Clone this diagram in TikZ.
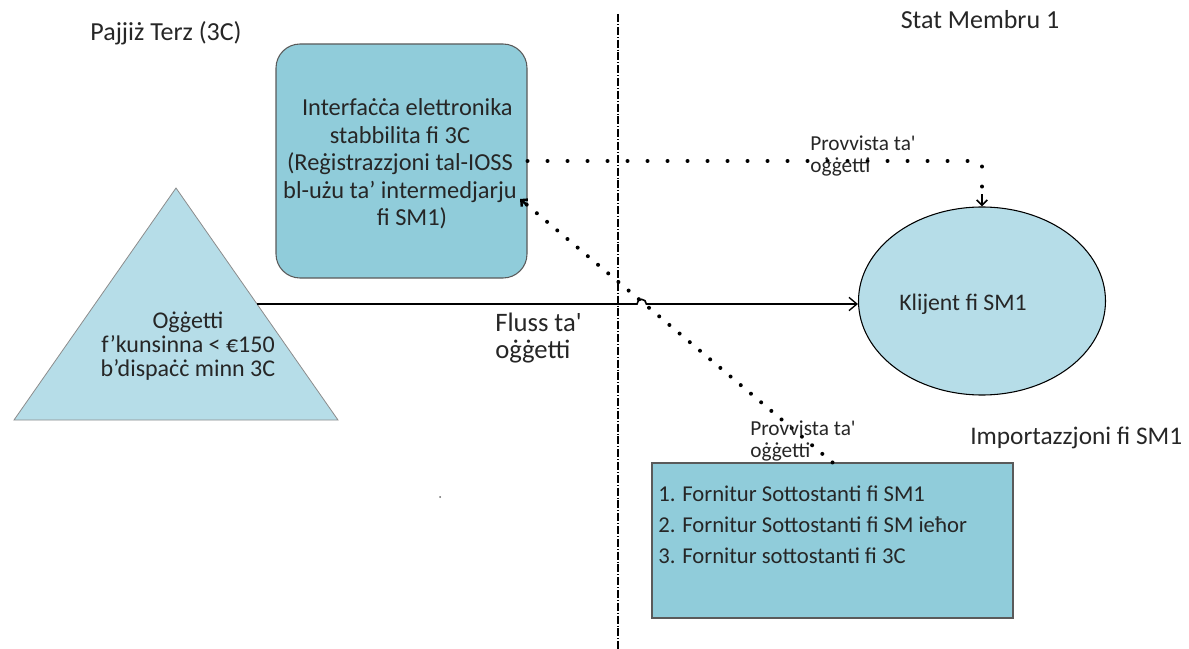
\documentclass[tikz,border=0pt]{standalone}
\usepackage{fontspec}
\setmainfont{Carlito}[Ligatures=TeXOff]
\usetikzlibrary{arrows.meta,shapes.geometric}
\definecolor{boxfill}{HTML}{90CCDA}
\definecolor{lightfill}{HTML}{B6DDE8}
\definecolor{edgegray}{HTML}{5A5A5A}
\tikzset{
  panel/.style={draw=edgegray, line width=0.8pt, fill=boxfill},
  lbl/.style={inner sep=0pt, font=\fontsize{18}{20}\selectfont, text=black!85},
  small/.style={inner sep=0pt, align=left, font=\fontsize{16}{16.5}\selectfont, text=black!85},
  flow/.style={line width=1.2pt, -{Straight Barb[length=6pt,width=10pt,line width=1pt]}},
  supply/.style={line width=3pt, line cap=round, dash pattern=on 0pt off 15pt},
  border/.style={line width=0.8pt, dash pattern=on 6pt off 1.5pt on 0.6pt off 1.5pt}
}
\begin{document}
\begin{tikzpicture}[x=0.75pt,y=-0.75pt]
\useasboundingbox (0,0) rectangle (1189,649);

% border between third country and member state
\coordinate (bt) at (618,14);
\coordinate (bb) at (618,649);
\draw[border] (bt) -- (bb);

% region titles
\node[lbl, font=\fontsize{19.5}{22}\selectfont] (third) at (166,33) {Pajjiż Terz (3C)};
\node[lbl, font=\fontsize{19.5}{22}\selectfont] (ms) at (980,20) {Stat Membru 1};
\node[lbl, anchor=west, font=\fontsize{19}{21}\selectfont] (impt) at (970,438) {Importazzjoni fi SM1};

% electronic interface
\node[panel, rounded corners=18pt, minimum width=251*0.75pt, minimum height=234*0.75pt] (iface) at (401.5,161) {};
\node[lbl, align=center, font=\fontsize{18.3}{20.6}\selectfont] (ifacetxt) at (400,164)
  {\hspace*{11pt}Interfaċċa elettronika\\
   stabbilita fi 3C\hspace*{19.5pt}\\
   (Reġistrazzjoni tal-IOSS\\
   bl-użu ta’ intermedjarju\\
   \hspace*{18pt}fi SM1)};

% goods triangle
\coordinate (apex) at (176,188);
\coordinate (tl) at (14,420);
\coordinate (tr) at (338,420);
\draw[draw=black!45, line width=0.6pt, fill=lightfill] (apex) -- (tr) -- (tl) -- cycle;
\node[lbl, align=center, font=\fontsize{18}{18}\selectfont] (goods) at (188,346)
  {Oġġetti\\ f’kunsinna < €150\\ b’dispaċċ minn 3C};
\coordinate (gout) at (257,304);

% customer
\node[ellipse, draw=black, line width=0.8pt, fill=lightfill, minimum width=247*0.75pt, minimum height=188*0.75pt, inner sep=0pt] (client) at (982,301) {};
\node[lbl, font=\fontsize{17.8}{20}\selectfont] (clienttxt) at (963,304) {Klijent fi SM1};

% underlying supplies
\node[draw=edgegray, line width=0.8pt, fill=boxfill, minimum width=361*0.75pt, minimum height=155*0.75pt] (imp) at (832.5,540.5) {};
\node[lbl, anchor=north west, align=left, font=\fontsize{17}{23}\selectfont] (imptxt) at (658,486)
  {1. Fornitur Sottostanti fi SM1\\
   2. Fornitur Sottostanti fi SM ieħor\\
   3. Fornitur sottostanti fi 3C};

% flow of goods, hopping over the dotted line
\coordinate (hopa) at (637,304);
\draw[flow] (gout) -- (hopa) arc[start angle=180, end angle=0, radius=3.5pt] -- (client.west |- hopa);
\node[lbl, anchor=north west, align=left, font=\fontsize{20}{20}\selectfont] (fluss) at (495,313) {Fluss ta'\\oġġetti};

% supply lines
\draw[supply] (iface.east) -| (client.north);
\draw[line width=1.2pt, -{Straight Barb[length=4pt,width=8pt,line width=1.2pt]}] ([yshift=9pt]client.north) -- (client.north);
\node[small, anchor=north west] (sup1) at (810,136) {Provvista ta'\\oġġetti};

\coordinate (diagend) at (520,199);
\draw[supply, dash pattern=on 0pt off 10pt] (imp.north) -- (diagend);
\draw[line width=1.8pt, -{Straight Barb[length=3.5pt,width=7pt,line width=1.8pt]}] (527,205) -- (diagend);
\node[small, anchor=north west] (sup2) at (750,421) {Provvista ta'\\oġġetti};

% stray mark
\fill[black!60] (440,497) circle[radius=1];
\end{tikzpicture}
\end{document}
